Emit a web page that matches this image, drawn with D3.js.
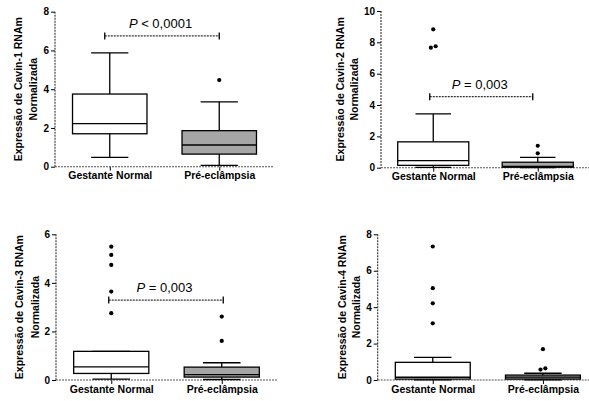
<!DOCTYPE html>
<html><head><meta charset="utf-8">
<script src="https://cdn.jsdelivr.net/npm/d3@7"></script>
<style>body{margin:0;background:#fff}svg{display:block;font-family:"Liberation Sans",Arial,sans-serif}</style>
</head><body><svg id="c" width="589" height="401"></svg>
<script>
const categories = ["Gestante Normal", "Pré-eclâmpsia"];
const yLabels = ["Expressão de Cavin-1 RNAm", "Expressão de Cavin-2 RNAm", "Expressão de Cavin-3 RNAm", "Expressão de Cavin-4 RNAm"];
const yLabel2 = "Normalizada";
const yMax = [8, 10, 6, 8];
const yTicks = [[0,2,4,6,8],[0,2,4,6,8,10],[0,2,4,6],[0,2,4,6,8]];
// [lower whisker, Q1, median, Q3, upper whisker]
const cavin1Stats = [[0.48, 1.70, 2.22, 3.75, 5.88], [0.07, 0.65, 1.12, 1.86, 3.35]];
const cavin1Out = [[], [4.47]];
const cavin2Stats = [[0.02, 0.15, 0.45, 1.65, 3.43], [0.01, 0.03, 0.08, 0.35, 0.66]];
const cavin2Out = [[7.66, 7.75, 8.83], [0.92, 1.40]];
const cavin3Stats = [[0.04, 0.27, 0.54, 1.18, 1.18], [0.02, 0.12, 0.22, 0.53, 0.71]];
const cavin3Out = [[2.75, 3.64, 4.74, 5.15, 5.49], [1.61, 2.61]];
const cavin4Stats = [[0.01, 0.05, 0.15, 0.97, 1.24], [0.01, 0.05, 0.16, 0.27, 0.37]];
const cavin4Out = [[3.11, 4.21, 5.04, 7.33], [0.57, 0.64, 1.69]];
const pTexts = [" < 0,0001", " = 0,003", " = 0,003", null];
const pBracketY = [6.75, 4.53, 3.29, null];

const stats = [cavin1Stats, cavin2Stats, cavin3Stats, cavin4Stats];
const outs = [cavin1Out, cavin2Out, cavin3Out, cavin4Out];
const FF = '"Liberation Sans",Arial,sans-serif';

// layout
const panels = [
  {left:55, right:274, top:11.7, bottom:166.7, l1:18, l2:33, bdx:[-5,0]},
  {left:381, right:590, top:11, bottom:167.7, l1:340, l2:354, bdx:[-3.5,-5]},
  {left:56, right:277, top:234.3, bottom:380, l1:19, l2:35, bdx:[-2.5,1.5]},
  {left:377.7, right:598, top:234.3, bottom:380, l1:342.5, l2:356, bdx:[0,0]}
];

const svg = d3.select("#c");
panels.forEach((p, i) => {
  const g = svg.append("g");
  const x = d3.scalePoint().domain(categories).range([p.left, p.right]).padding(0.5);
  const y = d3.scaleLinear().domain([0, yMax[i]]).range([p.bottom, p.top]);
  const bw = x.step() * 0.68;

  // y axis
  const ya = g.append("g").attr("transform", `translate(${p.left},0)`)
    .call(d3.axisLeft(y).tickValues(yTicks[i]).tickSize(4).tickPadding(2).tickFormat(d3.format("d")));
  ya.select(".domain").remove();
  ya.selectAll(".tick line").attr("stroke", "#000").attr("stroke-width", 1);
  ya.selectAll(".tick text").attr("font-size", "10px").attr("font-weight", "bold").attr("fill", "#000")
    .attr("font-family", FF);
  g.append("line").attr("x1", p.left).attr("x2", p.left).attr("y1", y(yMax[i])).attr("y2", y(0))
    .attr("stroke", "#333").attr("stroke-width", 1.1).attr("stroke-dasharray", "2,1");

  // x axis
  const xa = g.append("g").attr("transform", `translate(0,${p.bottom})`)
    .call(d3.axisBottom(x).tickSize(4).tickPadding(4));
  xa.select(".domain").remove();
  xa.selectAll(".tick line").attr("stroke", "#000");
  xa.selectAll(".tick text").attr("font-size", "10.5px").attr("font-weight", "bold").attr("fill", "#000")
    .attr("font-family", FF).attr("dy", "0.45em");
  g.append("line").attr("x1", p.left).attr("x2", Math.min(p.right, 589)).attr("y1", p.bottom).attr("y2", p.bottom)
    .attr("stroke", "#555").attr("stroke-width", 1.1).attr("stroke-dasharray", "2,1");

  // boxes
  categories.forEach((c, j) => {
    const s = stats[i][j];
    const cx = x(c);
    const fill = j === 0 ? "#fff" : "#a6a6a6";
    const ln = (x1, y1, x2, y2) => g.append("line").attr("x1", x1).attr("y1", y1).attr("x2", x2).attr("y2", y2)
      .attr("stroke", "#000").attr("stroke-width", 1.3);
    ln(cx, y(s[0]), cx, y(s[1]));
    ln(cx, y(s[3]), cx, y(s[4]));
    ln(cx - bw/4, y(s[0]), cx + bw/4, y(s[0]));
    ln(cx - bw/4, y(s[4]), cx + bw/4, y(s[4]));
    g.append("rect").attr("x", cx - bw/2).attr("y", y(s[3])).attr("width", bw)
      .attr("height", Math.max(0.5, y(s[1]) - y(s[3]))).attr("fill", fill).attr("stroke", "#000").attr("stroke-width", 1.3);
    ln(cx - bw/2, y(s[2]), cx + bw/2, y(s[2]));
    // outliers (small sideways offset for near-coincident points)
    const o = outs[i][j];
    o.forEach((v, k) => {
      let dx = 0;
      const near = o.filter((w, m) => m !== k && Math.abs(w - v) < 0.15);
      if (near.length) dx = (o.findIndex(w => Math.abs(w - v) < 0.15) === k) ? -2.4 : 2.4;
      g.append("circle").attr("cx", cx + dx).attr("cy", y(v)).attr("r", 2.1).attr("fill", "#000");
    });
  });

  // y labels
  const cy = (p.top + p.bottom) / 2;
  [[yLabels[i], p.l1], [yLabel2, p.l2]].forEach(([t, lx]) => {
    g.append("text").attr("transform", `translate(${lx + 3.8},${cy}) rotate(-90)`)
      .attr("text-anchor", "middle").attr("font-size", "10.5px").attr("font-weight", "bold")
      .attr("fill", "#000").attr("font-family", FF).text(t);
  });

  // p-value bracket
  if (pTexts[i]) {
    const x1 = x(categories[0]) + p.bdx[0], x2 = x(categories[1]) + p.bdx[1];
    const by = y(pBracketY[i]);
    g.append("line").attr("x1", x1).attr("x2", x2).attr("y1", by).attr("y2", by)
      .attr("stroke", "#000").attr("stroke-width", 1).attr("stroke-dasharray", "2,1");
    [x1, x2].forEach(xx => g.append("line").attr("x1", xx).attr("x2", xx).attr("y1", by - 3.5).attr("y2", by + 3.5)
      .attr("stroke", "#000").attr("stroke-width", 1.3));
    const t = g.append("text").attr("x", (x1 + x2) / 2 - 1.5).attr("y", by - 8).attr("text-anchor", "middle")
      .attr("font-size", "13px").attr("fill", "#000").attr("font-family", FF);
    t.append("tspan").attr("font-style", "italic").text("P");
    t.append("tspan").text(pTexts[i]);
  }
});
</script></body></html>
